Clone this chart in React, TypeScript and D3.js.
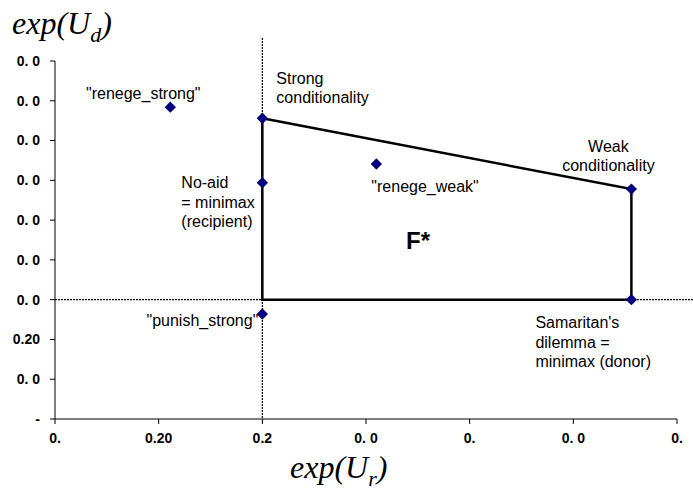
import * as d3 from 'd3';

const xTicks = [0.15, 0.2, 0.25, 0.3, 0.35, 0.4, 0.45];
const xTickLabels = ['0.', '0.20', '0.2', '0. 0', '0.', '0. 0', '0.'];
const yTicks = [0.1, 0.15, 0.2, 0.25, 0.3, 0.35, 0.4, 0.45, 0.5, 0.55];
const yTickLabels = ['-', '0. 0', '0.20', '0. 0', '0. 0', '0. 0', '0. 0', '0. 0', '0. 0', '0. 0'];

const points: { name: string; x: number; y: number }[] = [
    { name: 'renege_strong', x: 0.2056, y: 0.492 },
    { name: 'strong', x: 0.25, y: 0.478 },
    { name: 'noaid', x: 0.25, y: 0.397 },
    { name: 'renege_weak', x: 0.305, y: 0.4205 },
    { name: 'weak', x: 0.428, y: 0.389 },
    { name: 'samaritan', x: 0.428, y: 0.25 },
    { name: 'punish_strong', x: 0.25, y: 0.232 },
];

// label lines and offset (px) from its point
const labels: { name: string; lines: string[]; dx: number; dy: number; anchor: string }[] = [
    { name: 'renege_strong', lines: ['"renege_strong"'], dx: -27, dy: -14, anchor: 'middle' },
    { name: 'strong', lines: ['Strong', 'conditionality'], dx: 14, dy: -40, anchor: 'start' },
    { name: 'noaid', lines: ['No-aid', '= minimax', '(recipient)'], dx: -81, dy: 0, anchor: 'start' },
    { name: 'renege_weak', lines: ['"renege_weak"'], dx: -5, dy: 22, anchor: 'start' },
    { name: 'weak', lines: ['Weak', 'conditionality'], dx: -23, dy: -43, anchor: 'middle' },
    { name: 'samaritan', lines: ['Samaritan\'s', 'dilemma =', 'minimax (donor)'], dx: -96, dy: 23, anchor: 'start' },
    { name: 'punish_strong', lines: ['"punish_strong"'], dx: -4, dy: 6, anchor: 'end' },
];

// polygon F*: strong -> corner -> samaritan -> weak
const frontier: [number, number][] = [
    [0.25, 0.478],
    [0.25, 0.25],
    [0.428, 0.25],
    [0.428, 0.389],
    [0.25, 0.478],
];

const minimaxX = 0.25;
const minimaxY = 0.25;

export default function App() {
    const width = 693;
    const height = 496;
    const left = 55;
    const right = 677;
    const top = 61;
    const bottom = 419;

    const x = d3.scaleLinear().domain([0.15, 0.45]).range([left, right]);
    const y = d3.scaleLinear().domain([0.1, 0.55]).range([bottom, top]);
    const line = d3.line<[number, number]>()
        .x((d) => x(d[0]))
        .y((d) => y(d[1]));

    const byName = new Map(points.map((p) => [p.name, p]));
    const font = 'Arial, "Liberation Sans", sans-serif';
    const serif = '"Liberation Serif", "Times New Roman", serif';

    return (
        <svg
            width={width}
            height={height}
            style={{ position: 'absolute', left: 0, top: 0, background: '#fff' }}
        >
            {/* dotted minimax lines */}
            <line x1={left} x2={width} y1={y(minimaxY)} y2={y(minimaxY)}
                stroke="#000" strokeWidth={1.2} strokeDasharray="2,1" />
            <line x1={x(minimaxX)} x2={x(minimaxX)} y1={38} y2={bottom}
                stroke="#000" strokeWidth={1.2} strokeDasharray="2,1" />

            {/* axes */}
            <line x1={left} x2={left} y1={top} y2={bottom} stroke="#000" strokeWidth={1} />
            <line x1={left} x2={right} y1={bottom} y2={bottom} stroke="#000" strokeWidth={1} />
            {yTicks.map((t, i) => (
                <g key={'y' + i}>
                    <line x1={left - 5} x2={left} y1={y(t)} y2={y(t)} stroke="#000" />
                    <text x={40} y={y(t)} dy="0.35em" textAnchor="end"
                        fontFamily={font} fontWeight="bold" fontSize={14}>
                        {yTickLabels[i]}
                    </text>
                </g>
            ))}
            {xTicks.map((t, i) => (
                <g key={'x' + i}>
                    <line x1={x(t)} x2={x(t)} y1={bottom} y2={bottom + 5} stroke="#000" />
                    <text x={x(t)} y={443} textAnchor="middle"
                        fontFamily={font} fontWeight="bold" fontSize={14}>
                        {xTickLabels[i]}
                    </text>
                </g>
            ))}

            {/* frontier */}
            <path d={line(frontier) || ''} fill="none" stroke="#000" strokeWidth={2.5} />

            {/* markers */}
            {points.map((p) => (
                <rect key={p.name} x={x(p.x) - 4} y={y(p.y) - 4} width={8} height={8}
                    fill="#00007f" transform={`rotate(45 ${x(p.x)} ${y(p.y)})`} />
            ))}

            {/* labels */}
            {labels.map((l) => {
                const p = byName.get(l.name)!;
                return (
                    <text key={l.name} fontFamily={font} fontSize={16} textAnchor={l.anchor}>
                        {l.lines.map((s, i) => (
                            <tspan key={i} x={x(p.x) + l.dx} y={y(p.y) + l.dy + i * 19.5} dy="0.35em">
                                {s}
                            </tspan>
                        ))}
                    </text>
                );
            })}

            <text x={418} y={241} dy="0.35em" textAnchor="middle"
                fontFamily={font} fontWeight="bold" fontSize={24}>F*</text>

            {/* axis titles */}
            <text x={12} y={34} fontFamily={serif} fontStyle="italic" fontSize={32}>
                exp(U<tspan fontSize={22} dy={8}>d</tspan><tspan dy={-8}>)</tspan>
            </text>
            <text x={290} y={478} fontFamily={serif} fontStyle="italic" fontSize={32}>
                exp(U<tspan fontSize={22} dy={8}>r</tspan><tspan dy={-8}>)</tspan>
            </text>
        </svg>
    );
}
